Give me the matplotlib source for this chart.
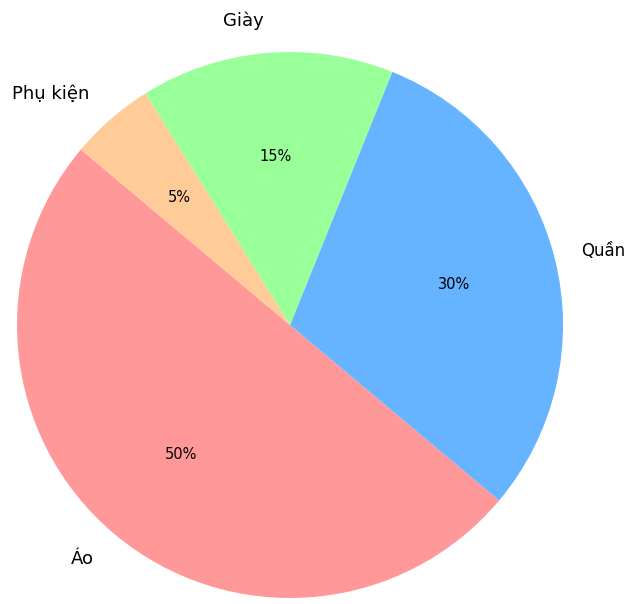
import matplotlib
matplotlib.use("Agg")
import matplotlib.pyplot as plt

labels = ["Áo", "Quần", "Giày", "Phụ kiện"]
sizes = [50, 30, 15, 5]
colors = ["#ff9999", "#66b3ff", "#99ff99", "#ffcc99"]

fig = plt.figure(figsize=(6.3, 6.04), dpi=100)
ax = fig.add_axes([0, 0, 1, 1])

wedges, texts, autotexts = ax.pie(sizes, labels=labels, colors=colors,
                                  autopct="%1.0f%%", startangle=140,
                                  labeldistance=1.12, pctdistance=0.62,
                                  textprops={"fontsize": 13})
for t in autotexts:
    t.set_fontsize(10.5)

# "Quần" sits right at the edge of the crop, pull it in a touch so it fits
x, y = texts[1].get_position()
texts[1].set_position((x * 1.1 / 1.12, y))
texts[1].set_fontsize(12)

# cropped view: pie centre at (290, 279) px, radius 273 px
r = 273.0
ax.set_aspect("auto")
ax.set_xlim(-290 / r, (630 - 290) / r)
ax.set_ylim(-279 / r, (604 - 279) / r)
ax.axis("off")

fig.savefig("out.png", dpi=100)
